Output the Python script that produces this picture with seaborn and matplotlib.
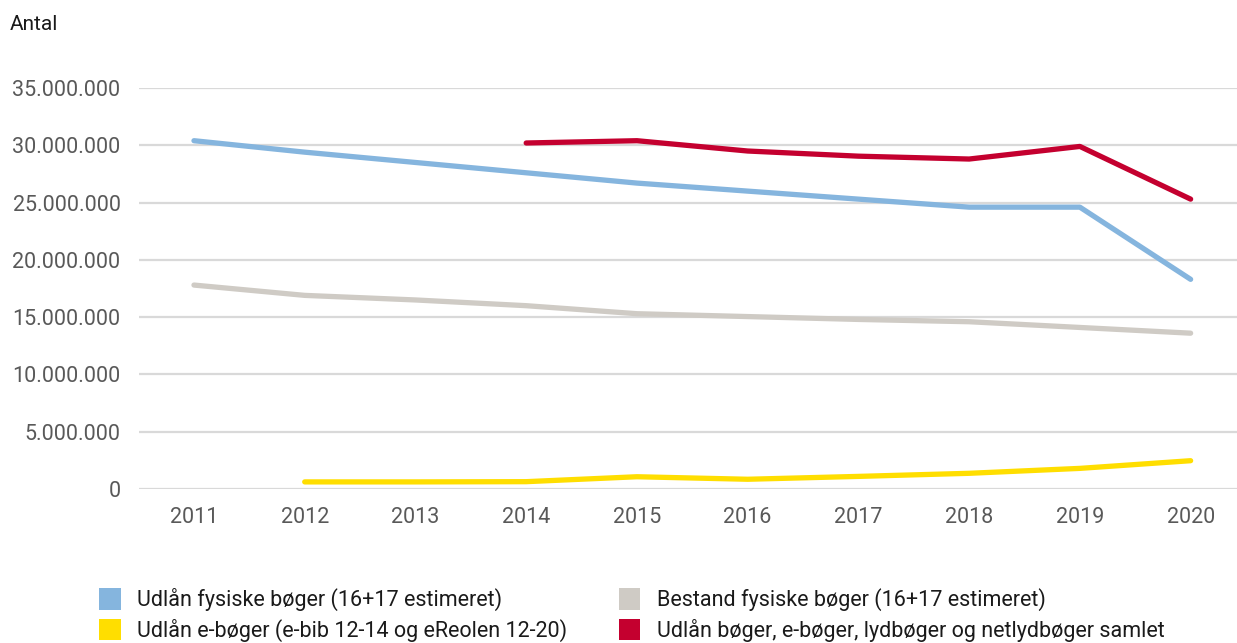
import matplotlib
matplotlib.use("Agg")
import matplotlib.pyplot as plt
import matplotlib.ticker as mticker
from matplotlib.patches import Patch
import seaborn as sns
import numpy as np
import pandas as pd

years = [2011, 2012, 2013, 2014, 2015, 2016, 2017, 2018, 2019, 2020]
udlaan_fysiske = [30.4e6, 29.4e6, 28.5e6, 27.6e6, 26.7e6, 26.0e6, 25.3e6, 24.6e6, 24.6e6, 18.3e6]
bestand_fysiske = [17.8e6, 16.9e6, 16.5e6, 16.0e6, 15.3e6, 15.05e6, 14.8e6, 14.6e6, 14.1e6, 13.6e6]
udlaan_eboger = [np.nan, 0.62e6, 0.62e6, 0.64e6, 1.07e6, 0.85e6, 1.1e6, 1.37e6, 1.8e6, 2.47e6]
udlaan_samlet = [np.nan, np.nan, np.nan, 30.2e6, 30.4e6, 29.5e6, 29.05e6, 28.8e6, 29.9e6, 25.3e6]

labels = [
    "Udlån fysiske bøger (16+17 estimeret)",
    "Udlån e-bøger (e-bib 12-14 og eReolen 12-20)",
    "Bestand fysiske bøger (16+17 estimeret)",
    "Udlån bøger, e-bøger, lydbøger og netlydbøger samlet",
]
colors = ["#85B5DE", "#FFDE00", "#CFCBC5", "#C4002F"]
series = [udlaan_fysiske, udlaan_eboger, bestand_fysiske, udlaan_samlet]

sns.set_theme(style="white")
plt.rcParams["font.family"] = ["Roboto", "DejaVu Sans"]

W, H = 1237, 643
fig = plt.figure(figsize=(W / 100, H / 100), dpi=100)
left, right, top, bottom = 138.6, 1246, 88, 489
ax = fig.add_axes([left / W, 1 - bottom / H, (right - left) / W, (bottom - top) / H])

xpos = list(range(len(years)))
# draw order: gray, blue, yellow, red
for idx in [2, 0, 1, 3]:
    df = pd.DataFrame({"x": xpos, "y": series[idx]}).dropna()
    sns.lineplot(data=df, x="x", y="y", ax=ax, color=colors[idx], linewidth=3.8,
                 solid_capstyle="round", solid_joinstyle="round", zorder=3)

ax.set_xlim(-0.5, len(years) - 0.5)
ax.set_ylim(0, 35e6)
ax.set_yticks(np.arange(0, 35e6 + 1, 5e6))
ax.yaxis.set_major_formatter(mticker.FuncFormatter(lambda v, p: f"{int(v):,}".replace(",", ".")))
ax.set_xticks(xpos)
ax.set_xticklabels([str(y) for y in years])
ax.grid(axis="y", color="#D9D9D9", linewidth=1.6, zorder=0)
ax.grid(axis="x", visible=False)
for s in ax.spines.values():
    s.set_visible(False)
ax.tick_params(axis="both", length=0, labelsize=15.5, labelcolor="#595959")
ax.tick_params(axis="y", pad=13)
ax.tick_params(axis="x", pad=13)
ax.set_xlabel("")
ax.set_ylabel("")

fig.text(10 / W, 1 - 25 / H, "Antal", fontsize=15, color="#1a1a1a", va="center", ha="left")

handles = [Patch(facecolor=c, edgecolor="none") for c in colors]
fig.legend(handles, labels, loc="upper left", bbox_to_anchor=(80 / W, 1 - 569 / H),
           ncol=2, frameon=False, fontsize=15.5, handlelength=1.0, handleheight=1.15,
           handletextpad=0.75, columnspacing=2.4, labelspacing=0.35, labelcolor="#1a1a1a")

fig.savefig("out.png", dpi=100)
